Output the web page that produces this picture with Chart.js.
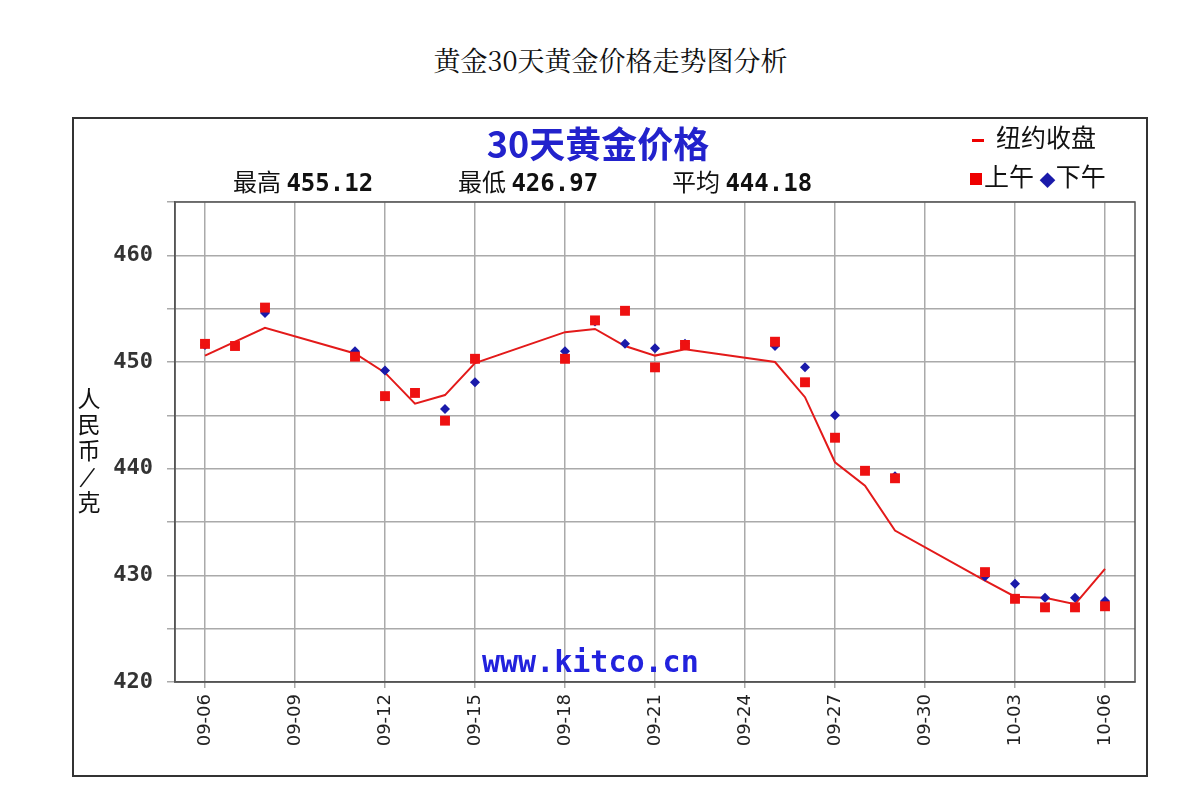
<!DOCTYPE html>
<html>
<head>
<meta charset="utf-8">
<script src="https://cdn.jsdelivr.net/npm/chart.js@4"></script>
<style>
  body { margin: 0; background: #fff; width: 1201px; height: 800px; position: relative; overflow: hidden; font-family: "DejaVu Sans", "Noto Sans CJK SC", sans-serif; }
  .abs { position: absolute; white-space: nowrap; }
  #frame { position: absolute; left: 72px; top: 117px; width: 1072px; height: 656px; border: 2px solid #333; }
  canvas { position: absolute; left: 0; top: 0; }
</style>
</head>
<body>
<div class="abs" style="left:0;width:1221px;top:40px;text-align:center;font-family:'Noto Serif CJK SC','Noto Sans CJK SC',serif;font-size:27px;color:#111;">黄金30天黄金价格走势图分析</div>
<div id="frame"></div>
<canvas id="goldChart" width="1201" height="800"></canvas>
<div class="abs" style="left:0;width:1196px;top:116px;text-align:center;font-family:'Noto Sans CJK SC';font-weight:bold;font-size:36px;color:#2222cc;">30天黄金价格</div>
<div class="abs" style="left:233px;top:163px;font-family:'Noto Sans CJK SC';font-size:24px;color:#111;">最高 <b style="font-family:'DejaVu Sans Mono'">455.12</b></div>
<div class="abs" style="left:458px;top:163px;font-family:'Noto Sans CJK SC';font-size:24px;color:#111;">最低 <b style="font-family:'DejaVu Sans Mono'">426.97</b></div>
<div class="abs" style="left:672px;top:163px;font-family:'Noto Sans CJK SC';font-size:24px;color:#111;">平均 <b style="font-family:'DejaVu Sans Mono'">444.18</b></div>
<div class="abs" style="left:972px;top:118px;font-family:'Noto Sans CJK SC';font-size:25px;color:#111;"><span style="display:inline-block;width:12px;height:3px;background:#e00;vertical-align:middle;margin-right:12px"></span>纽约收盘</div>
<div class="abs" style="left:970px;top:157px;font-family:'Noto Sans CJK SC';font-size:25px;color:#111;"><span style="display:inline-block;width:12px;height:12px;background:#e00;vertical-align:middle;margin-right:2px"></span>上午 <span style="color:#1a1aaa;font-size:16px;vertical-align:middle">◆</span>下午</div>
<div class="abs" style="left:76px;top:384px;width:26px;font-family:'Noto Sans CJK SC';font-size:23px;line-height:26px;color:#111;white-space:normal;text-align:center;">人民币<span style="display:inline-block;transform:rotate(20deg)">/</span>克</div>
<div class="abs" style="left:482px;top:644px;font-family:'DejaVu Sans Mono';font-weight:bold;font-size:30px;color:#2222dd;">www.kitco.cn</div>
<script>
// 日期偏移：0 = 09-06
var dateLabels = ['09-06','09-07','09-08','09-09','09-10','09-11','09-12','09-13','09-14','09-15','09-16','09-17','09-18','09-19','09-20','09-21','09-22','09-23','09-24','09-25','09-26','09-27','09-28','09-29','09-30','10-01','10-02','10-03','10-04','10-05','10-06'];

// 纽约收盘
var closeDays   = [0, 2, 5, 6, 7, 8, 9, 12, 13, 14, 15, 16, 19, 20, 21, 22, 23, 26, 27, 28, 29, 30];
var closeValues = [450.6, 453.2, 450.8, 449.0, 446.1, 446.9, 449.9, 452.8, 453.1, 451.5, 450.6, 451.2, 450.0, 446.7, 440.6, 438.4, 434.2, 429.5, 428.0, 427.9, 427.3, 430.6];

// 上午
var amDays   = [0, 1, 2, 5, 6, 7, 8, 9, 12, 13, 14, 15, 16, 19, 20, 21, 22, 23, 26, 27, 28, 29, 30];
var amValues = [451.7, 451.5, 455.1, 450.5, 446.8, 447.1, 444.5, 450.3, 450.3, 453.9, 454.8, 449.5, 451.6, 451.9, 448.1, 442.9, 439.8, 439.1, 430.3, 427.8, 427.0, 427.0, 427.1];

// 下午
var pmDays   = [0, 2, 5, 6, 8, 9, 12, 13, 14, 15, 16, 19, 20, 21, 23, 26, 27, 28, 29, 30];
var pmValues = [451.6, 454.6, 451.0, 449.2, 445.6, 448.1, 451.0, 453.8, 451.7, 451.3, 451.7, 451.5, 449.5, 445.0, 439.3, 429.9, 429.2, 427.9, 427.9, 427.6];

var yTicks = [420, 430, 440, 450, 460];

function pts(days, vals) {
    return days.map(function (d, i) { return { x: d, y: vals[i] }; });
}

// 绘图区外框
var boxPlugin = {
    id: 'box',
    afterDraw: function (chart) {
        var a = chart.chartArea, c = chart.ctx;
        c.save();
        c.strokeStyle = '#555';
        c.lineWidth = 1.5;
        c.strokeRect(a.left, a.top, a.right - a.left, a.bottom - a.top);
        c.restore();
    }
};

var ctx = document.getElementById('goldChart').getContext('2d');
new Chart(ctx, {
    type: 'scatter',
    data: {
        datasets: [{
            label: '纽约收盘',
            type: 'line',
            data: pts(closeDays, closeValues),
            borderColor: '#e31a1a',
            borderWidth: 2,
            pointRadius: 0,
            tension: 0,
            order: 3
        }, {
            label: '下午',
            data: pts(pmDays, pmValues),
            pointStyle: 'rectRot',
            pointRadius: 5,
            backgroundColor: '#1a1aaa',
            borderWidth: 0,
            order: 2
        }, {
            label: '上午',
            data: pts(amDays, amValues),
            pointStyle: 'rect',
            pointRadius: 7,
            backgroundColor: '#ee1111',
            borderWidth: 0,
            order: 1
        }]
    },
    plugins: [boxPlugin],
    options: {
        responsive: false,
        animation: false,
        layout: { padding: { top: 202, right: 66, left: 0, bottom: 0 } },
        plugins: { legend: { display: false }, tooltip: { enabled: false } },
        scales: {
            x: {
                type: 'linear', min: -1, max: 31,
                afterFit: function (s) { s.height = 118; },
                afterBuildTicks: function (s) {
                    var t = [];
                    for (var d = 0; d <= 30; d += 3) t.push({ value: d });
                    s.ticks = t;
                },
                ticks: {
                    maxRotation: 90, minRotation: 90, padding: 6,
                    color: '#222',
                    font: { family: 'DejaVu Sans', size: 18 },
                    callback: function (v) { return dateLabels[v] || ''; }
                },
                grid: { color: '#aaa', lineWidth: 1.5, drawTicks: true, tickLength: 6 },
                border: { color: '#555', width: 1.5 }
            },
            y: {
                min: 420, max: 465,
                afterFit: function (s) { s.width = 175; },
                ticks: {
                    stepSize: 5, padding: 14,
                    color: '#333',
                    font: { family: 'DejaVu Sans Mono', size: 22, weight: 'bold' },
                    callback: function (v) { return yTicks.indexOf(v) >= 0 ? v : ''; }
                },
                grid: { color: '#aaa', lineWidth: 1.5, tickLength: 8 },
                border: { color: '#555', width: 1.5 }
            }
        }
    }
});
</script>
</body>
</html>
